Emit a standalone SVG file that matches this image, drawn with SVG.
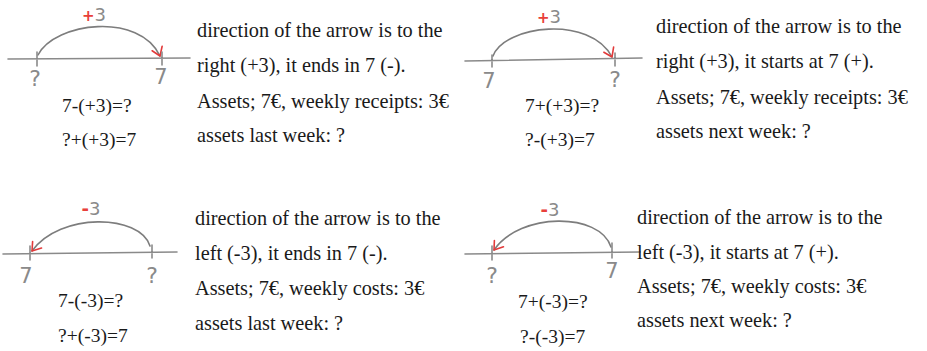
<svg xmlns="http://www.w3.org/2000/svg" width="927" height="351" viewBox="0 0 927 351">
<defs>
<marker id="ah" viewBox="-10 -8 14 16" markerWidth="14" markerHeight="16" refX="0" refY="0" orient="auto" markerUnits="userSpaceOnUse">
<path d="M-8,-6 L0,0 L-8,5" fill="none" stroke="#e23a3a" stroke-width="1.6" stroke-linecap="round" stroke-linejoin="round"/>
</marker>
</defs>
<style>
.axis{stroke:#8a8a8a;stroke-width:1.6;fill:none;stroke-linecap:round}
.arc{stroke:#7d7d7d;stroke-width:1.6;fill:none;stroke-linecap:round}
.hand{font-family:"DejaVu Sans",sans-serif;fill:#8a8a8a;text-anchor:middle}
.red{fill:#e8403a}
.eq{font-family:"Liberation Serif",serif;font-size:19.5px;fill:#1a1a1a}
.txt{font-family:"Liberation Serif",serif;font-size:20.3px;fill:#1a1a1a}
</style>
<rect width="927" height="351" fill="#ffffff"/>

<g id="connectors">
<path class="arc" d="M38,55 C55,22 140,12 160,56" marker-end="url(#ah)"/>
<path class="arc" d="M493,56 C505,25 590,15 612,57" marker-end="url(#ah)"/>
<path class="arc" d="M150,246 C140,214 60,212 32,251" marker-end="url(#ah)"/>
<path class="arc" d="M611,247 C600,212 520,212 494,250" marker-end="url(#ah)"/>
</g>

<g id="panel-1">
<path class="axis" d="M8,59 L190,58 M37,52 L37,66 M162,52 L162,65"/>
<text class="hand" font-size="18" x="94" y="21"><tspan class="red" font-size="15" font-weight="bold">+</tspan><tspan>3</tspan></text>
<text class="hand" font-size="22" x="35" y="86">?</text>
<text class="hand" font-size="21" x="161" y="84">7</text>
<text class="eq" x="62" y="112">7-(+3)=?</text>
<text class="eq" x="62" y="146">?+(+3)=7</text>
</g>
<g id="text-1">
<text class="txt" x="197" y="37">direction of the arrow is to the</text>
<text class="txt" x="197" y="72">right (+3), it ends in 7 (-).</text>
<text class="txt" x="197" y="108">Assets; 7€, weekly receipts: 3€</text>
<text class="txt" x="197" y="142">assets last week: ?</text>
</g>

<g id="panel-2">
<path class="axis" d="M465,61 L642,58 M492,55 L492,67 M615,53 L615,66"/>
<text class="hand" font-size="18" x="549" y="23"><tspan class="red" font-size="15" font-weight="bold">+</tspan><tspan>3</tspan></text>
<text class="hand" font-size="21" x="489" y="88">7</text>
<text class="hand" font-size="22" x="615" y="87">?</text>
<text class="eq" x="525" y="112">7+(+3)=?</text>
<text class="eq" x="525" y="146">?-(+3)=7</text>
</g>
<g id="text-2">
<text class="txt" x="656" y="33">direction of the arrow is to the</text>
<text class="txt" x="656" y="68">right (+3), it starts at 7 (+).</text>
<text class="txt" x="656" y="104">Assets; 7€, weekly receipts: 3€</text>
<text class="txt" x="656" y="138">assets next week: ?</text>
</g>

<g id="panel-3">
<path class="axis" d="M3,254 L177,252 M30,246 L30,260 M152,245 L152,258"/>
<text class="hand" font-size="18" x="91" y="215"><tspan class="red" font-size="18" font-weight="bold">-</tspan><tspan>3</tspan></text>
<text class="hand" font-size="21" x="26" y="283">7</text>
<text class="hand" font-size="22" x="152" y="283">?</text>
<text class="eq" x="58" y="307">7-(-3)=?</text>
<text class="eq" x="58" y="342">?+(-3)=7</text>
</g>
<g id="text-3">
<text class="txt" x="195" y="225">direction of the arrow is to the</text>
<text class="txt" x="195" y="260">left (-3), it ends in 7 (-).</text>
<text class="txt" x="195" y="295">Assets; 7€, weekly costs: 3€</text>
<text class="txt" x="195" y="330">assets last week: ?</text>
</g>

<g id="panel-4">
<path class="axis" d="M465,254 L640,252 M492,246 L492,260 M612,243 L612,258"/>
<text class="hand" font-size="18" x="550" y="216"><tspan class="red" font-size="18" font-weight="bold">-</tspan><tspan>3</tspan></text>
<text class="hand" font-size="22" x="492" y="283">?</text>
<text class="hand" font-size="21" x="612" y="278">7</text>
<text class="eq" x="518" y="308">7+(-3)=?</text>
<text class="eq" x="520" y="343">?-(-3)=7</text>
</g>
<g id="text-4">
<text class="txt" x="637" y="224">direction of the arrow is to the</text>
<text class="txt" x="637" y="259">left (-3), it starts at 7 (+).</text>
<text class="txt" x="637" y="293">Assets; 7€, weekly costs: 3€</text>
<text class="txt" x="637" y="327">assets next week: ?</text>
</g>
</svg>
